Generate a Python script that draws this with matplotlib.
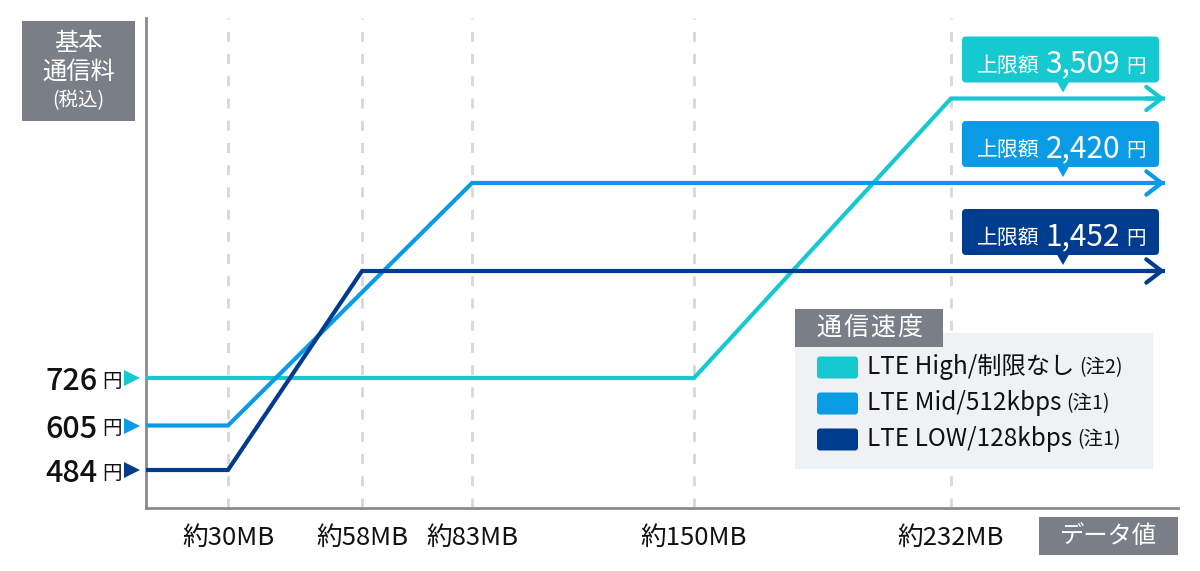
import numpy as np
import matplotlib
matplotlib.use("Agg")
import matplotlib.pyplot as plt
from matplotlib.patches import FancyBboxPatch, Rectangle, Polygon
from matplotlib.transforms import IdentityTransform

plt.rcParams['font.family'] = ['Noto Sans CJK JP', 'DejaVu Sans']

# --- data ---
plans = ['LTE High/制限なし', 'LTE Mid/512kbps', 'LTE LOW/128kbps']
notes = ['(注2)', '(注1)', '(注1)']
base_fee = [726, 605, 484]        # 円
cap_fee = [3509, 2420, 1452]      # 円 (上限額)
ramp_from = [150, 30, 30]         # MB where the fee starts rising
ramp_to = [232, 83, 58]           # MB where the cap is reached
mb_ticks = [30, 58, 83, 150, 232]
mb_labels = ['約30MB', '約58MB', '約83MB', '約150MB', '約232MB']
colors = ['#16c8cf', '#0a9be4', '#003c8e']

# the chart is schematic, so both axes use a piecewise scale (value -> pixel)
x_val = [0, 30, 58, 83, 150, 232, 300, 310]
x_px = [146, 228, 362, 472, 694, 951, 1165, 1178]
y_val = [390, 484, 605, 726, 1452, 2420, 3509, 4300]
y_px = [0, 38, 82.5, 130, 237, 325, 409.5, 490]
x_tail = 300   # where the arrows end

W, H = 1200, 571
GREY = '#7a7f87'
PIX = IdentityTransform()

fig = plt.figure(figsize=(W / 100, H / 100), dpi=100)
ax = fig.add_axes([146 / W, (H - 508) / H, (1178 - 146) / W, (508 - 18) / H])

ax.set_xscale('function', functions=(lambda v: np.interp(v, x_val, x_px),
                                     lambda p: np.interp(p, x_px, x_val)))
ax.set_yscale('function', functions=(lambda v: np.interp(v, y_val, y_px),
                                     lambda p: np.interp(p, y_px, y_val)))
ax.set_xlim(x_val[0], x_val[-1])
ax.set_ylim(y_val[0], y_val[-1])

for s in ['top', 'right']:
    ax.spines[s].set_visible(False)
for s in ['left', 'bottom']:
    ax.spines[s].set_color('#878c93')
    ax.spines[s].set_linewidth(2)

for mb in mb_ticks:
    ax.axvline(mb, color='#d5d8dc', lw=2, ls=(0, (3.6, 4.4)), zorder=1)

ax.set_xticks(mb_ticks, mb_labels)
ax.set_yticks(base_fee, [str(v) for v in base_fee])
ax.tick_params(axis='x', length=0, pad=12, labelsize=18.5, labelcolor='#111111')
ax.tick_params(axis='y', length=0, pad=35, labelsize=22, labelcolor='#111111')
for t in ax.get_yticklabels():
    t.set_fontweight('medium')
ax.minorticks_off()

for i in range(3):
    xs = [0, ramp_from[i], ramp_to[i], x_tail]
    ys = [base_fee[i], base_fee[i], cap_fee[i], cap_fee[i]]
    ax.plot(xs, ys, color=colors[i], lw=3, solid_joinstyle='miter',
            solid_capstyle='butt', clip_on=False, zorder=3)
    ax.annotate('', xy=(x_tail, cap_fee[i]), xytext=(x_tail - 6, cap_fee[i]),
                arrowprops=dict(arrowstyle='->,head_length=0.55,head_width=0.42',
                                color=colors[i], lw=3, mutation_scale=20,
                                shrinkA=0, shrinkB=0, joinstyle='miter'),
                annotation_clip=False, zorder=4)
    # triangle markers next to the base fee labels
    ax.plot([-0.0135], [base_fee[i]], marker='>', ms=11, color=colors[i],
            transform=ax.get_yaxis_transform(), clip_on=False, mew=0)

fig.canvas.draw()
renderer = fig.canvas.get_renderer()


def top(v):
    # pixel row (from the top) of a fee value
    return H - ax.transData.transform((0, v))[1]


def ptext(x, yt, s, **kw):
    return fig.text(x, H - yt, s, transform=PIX, **kw)


def pbox(x0, yt0, x1, yt1, color, rad=0):
    if rad:
        p = FancyBboxPatch((x0 + rad, H - yt1 + rad), x1 - x0 - 2 * rad, yt1 - yt0 - 2 * rad,
                           boxstyle='round,pad=%g,rounding_size=%g' % (rad, rad),
                           transform=PIX, fc=color, ec='none')
    else:
        p = Rectangle((x0, H - yt1), x1 - x0, yt1 - yt0, transform=PIX, fc=color, ec='none')
    fig.add_artist(p)
    return p


# 円 next to base fees
for v in base_fee:
    ptext(102, top(v) + 9, '円', fontsize=14, color='#111111', va='baseline')

# y axis title box
pbox(22, 21, 135, 121, GREY)
ptext(78.5, 43, '基本', fontsize=17.5, color='white', ha='center', va='center')
ptext(78.5, 72, '通信料', fontsize=17.5, color='white', ha='center', va='center')
ptext(78.5, 101, '(税込)', fontsize=14, color='white', ha='center', va='center')

# x axis title box
pbox(1039, 517, 1178, 555, GREY)
ptext(1108, 536, 'データ値', fontsize=17.5, color='white', ha='center', va='center')

# cap callouts
for i in range(3):
    yl = top(cap_fee[i])
    pbox(962, yl - 62, 1159, yl - 16, colors[i], rad=4)
    fig.add_artist(Polygon([(1057, H - (yl - 16.5)), (1069, H - (yl - 16.5)), (1063, H - (yl - 6))],
                           closed=True, transform=PIX, fc=colors[i], ec='none'))
    base = yl - 27
    t1 = ptext(977, base, '上限額', fontsize=15, color='white', va='baseline')
    x = t1.get_window_extent(renderer).x1 + 6
    t2 = ptext(x, base + 1, '{:,}'.format(cap_fee[i]), fontsize=21.5, color='white',
               va='baseline')
    x = t2.get_window_extent(renderer).x1 + 6
    ptext(x, base, '円', fontsize=14, color='white', va='baseline')

# legend
pbox(795, 333, 1153, 469, '#eff2f4')
pbox(795, 309, 943, 347, GREY)
for k, ch in enumerate('通信速度'):
    ptext(828.5 + 27 * k, 328, ch, fontsize=18, color='white', ha='center', va='center')
row_y = [367.5, 403.5, 439.5]
for i in range(3):
    pbox(817, row_y[i] - 11, 858, row_y[i] + 11, colors[i], rad=3)
    t = ptext(867, row_y[i] + 7, plans[i], fontsize=17.5, color='#111111', va='baseline')
    x = t.get_window_extent(renderer).x1 + 5
    ptext(x, row_y[i] + 6, notes[i], fontsize=14, color='#111111', va='baseline')

fig.savefig('out.png', dpi=100, facecolor='white')
